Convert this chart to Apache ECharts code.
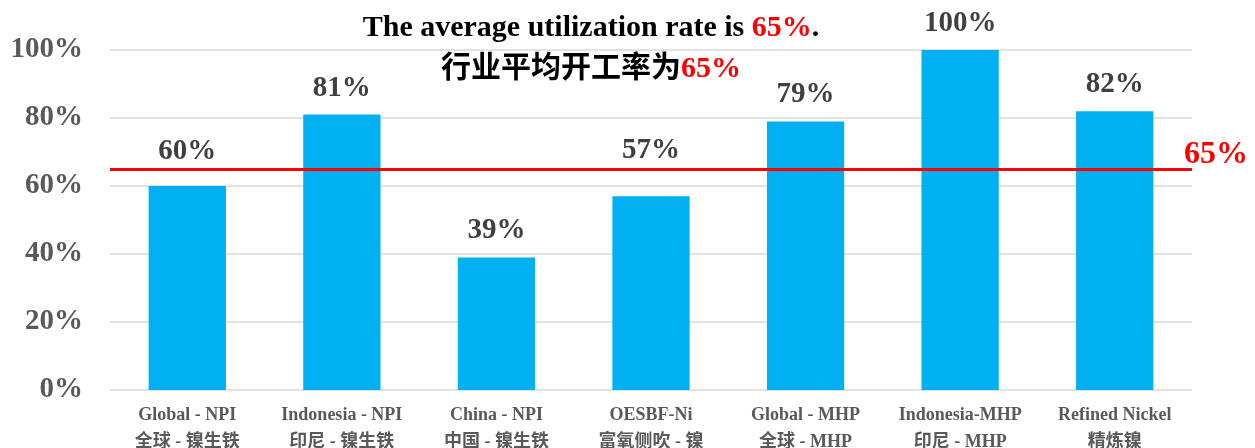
<!DOCTYPE html>
<html lang="en">
<head>
	<meta charset="UTF-8">
	<title>开工率</title>
	<style>
		*{margin: 0; padding: 0; box-sizing: border-box;}
		body{ background: #fff; }
		#view{ width: 1255px; height: 448px; }
	</style>
</head>
<body>
	<div id="view"></div>
	<script src="https://cdn.jsdelivr.net/npm/echarts@6/dist/echarts.min.js"></script>
	<script>
		// data
		const namesEn = ['Global - NPI', 'Indonesia - NPI', 'China - NPI', 'OESBF-Ni', 'Global - MHP', 'Indonesia-MHP', 'Refined Nickel'];
		const namesCn = ['全球 - 镍生铁', '印尼 - 镍生铁', '中国 - 镍生铁', '富氧侧吹 - 镍', '全球 - MHP', '印尼 - MHP', '精炼镍'];
		const rates = [60, 81, 39, 57, 79, 100, 82];
		const average = 65;
		const yTicks = [0, 20, 40, 60, 80, 100];

		const categories = namesEn.map(function (n, i) { return n + '\n' + namesCn[i]; });
		// labels nudged up so they sit above the red average line
		const labelLift = {0: -8, 3: -19};
		const barData = rates.map(function (v, i) {
			return labelLift[i] ? {value: v, label: {offset: [0, labelLift[i]]}} : v;
		});
		const serif = '"Liberation Serif", "Times New Roman", "Noto Sans CJK SC", serif';
		var myChart = echarts.init(document.getElementById('view'));
		let option = {
			animation: false,
			title: {
				left: 586, top: 3, textAlign: 'center',
				text: '{b|The average utilization rate is }{r|' + average + '%}{b|.}\n{c|行业平均开工率为}{r|' + average + '%}',
				textStyle: {
					rich: {
						b: {fontFamily: serif, fontWeight: 'bold', fontSize: 30, color: '#000', lineHeight: 41},
						c: {fontFamily: serif, fontWeight: 'bold', fontSize: 30, color: '#000', lineHeight: 41},
						r: {fontFamily: serif, fontWeight: 'bold', fontSize: 30, color: '#ff0000', lineHeight: 41}
					}
				}
			},
			grid: {left: 110, right: 63, top: 50, bottom: 58, containLabel: false, outerBoundsMode: 'none'},
			xAxis: {
				type: 'category',
				data: categories,
				axisLine: {show: false},
				axisTick: {show: false},
				axisLabel: {
					interval: 0, margin: 12,
					formatter: function (v) {
						const p = v.split('\n');
						return '{e|' + p[0] + '}\n{c|' + p[1] + '}';
					},
					rich: {
						e: {color: '#595959', fontFamily: serif, fontWeight: 'bold', fontSize: 18, lineHeight: 27},
						c: {color: '#595959', fontFamily: serif, fontWeight: 'bold', fontSize: 18, lineHeight: 27}
					}
				}
			},
			yAxis: {
				type: 'value', min: yTicks[0], max: yTicks[yTicks.length - 1], interval: 20,
				axisLabel: {
					formatter: '{value}%', margin: 27, color: '#595959',
					fontFamily: serif, fontWeight: 'bold', fontSize: 29
				},
				splitLine: {lineStyle: {color: '#d9d9d9', width: 1.5}}
			},
			series: [{
				type: 'bar',
				data: barData,
				barWidth: '50%',
				itemStyle: {color: '#00b0f0'},
				label: {
					show: true, position: 'top', distance: 12, formatter: '{c}%',
					color: '#404040', fontFamily: serif, fontWeight: 'bold', fontSize: 29
				},
				markLine: {
					silent: true,
					symbol: 'none',
					lineStyle: {color: '#ff0000', width: 3, type: 'solid'},
					label: {
						position: 'end', distance: 0, offset: [-8, -14], formatter: average + '%',
						color: '#ff0000', fontFamily: serif, fontWeight: 'bold', fontSize: 32
					},
					data: [{yAxis: average}]
				}
			}]
		};
		myChart.setOption(option);
	</script>
</body>
</html>
